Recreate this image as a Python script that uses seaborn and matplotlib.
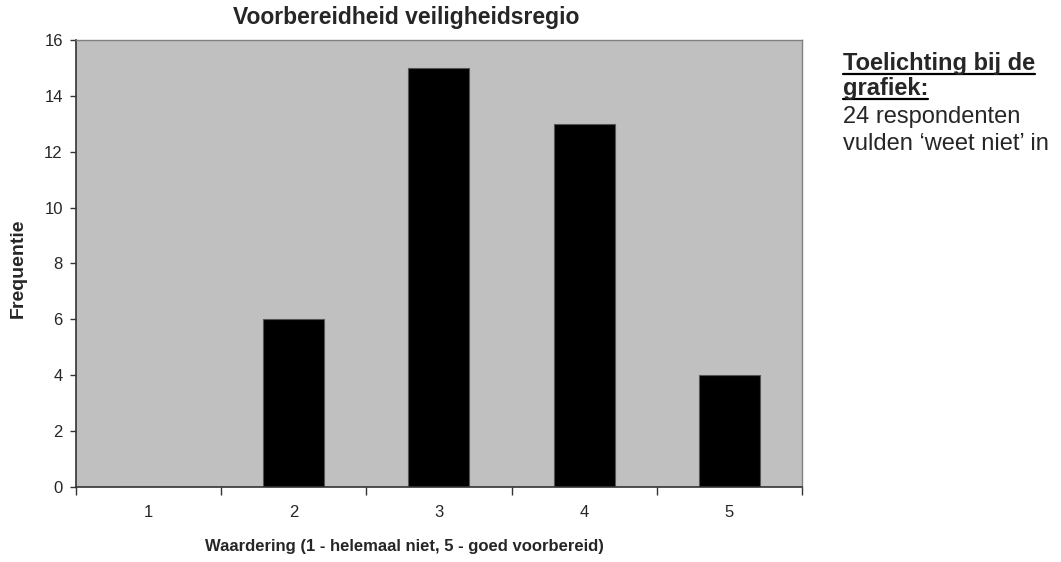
import matplotlib
matplotlib.use("Agg")
import matplotlib.pyplot as plt
import seaborn as sns
import pandas as pd
import numpy as np
from matplotlib.lines import Line2D

waardering = ["1", "2", "3", "4", "5"]
frequentie = [0, 6, 15, 13, 4]
y_ticks = [0, 2, 4, 6, 8, 10, 12, 14, 16]

df = pd.DataFrame({"waardering": waardering, "frequentie": frequentie})

sns.set_style("white")
plt.rcParams['font.family'] = ['Liberation Sans', 'DejaVu Sans']

fig = plt.figure(figsize=(10.61, 5.62), dpi=100)
ax = fig.add_axes([0.0716, 0.1335, 0.6843, 0.7955])
sns.barplot(data=df, x="waardering", y="frequentie", color="black",
            width=0.42, edgecolor="#555555", linewidth=0.8, saturation=1, ax=ax)
ax.set_facecolor("#C0C0C0")
ax.set_xlim(-0.5, 4.5)
ax.set_ylim(0, 16)
ax.set_yticks(y_ticks)
ax.set_yticklabels([str(t) for t in y_ticks], fontsize=12)

# category boundaries as major ticks, labels centred as minor ticks
ax.set_xticks(np.arange(-0.5, 5, 1))
ax.set_xticklabels([])
ax.set_xticks(np.arange(0, 5), minor=True)
ax.set_xticklabels(waardering, minor=True, fontsize=12)
ax.tick_params(axis="x", which="major", direction="out", length=6, width=1, color="#333333", bottom=True)
ax.tick_params(axis="x", which="minor", length=0, pad=13)
ax.tick_params(axis="y", direction="out", length=4.5, width=1, color="#333333", left=True, pad=5)

for s in ["top", "right"]:
    ax.spines[s].set_color("#808080")
    ax.spines[s].set_linewidth(1)
for s in ["left", "bottom"]:
    ax.spines[s].set_color("#333333")
    ax.spines[s].set_linewidth(1.2)

fig.text(0.3827, 0.957, "Voorbereidheid veiligheidsregio", fontsize=16.5,
         fontweight="bold", ha="center", va="baseline")
ax.set_xlabel("Waardering (1 - helemaal niet, 5 - goed voorbereid)", fontsize=12,
              fontweight="bold", labelpad=14)
ax.xaxis.label.set_x(0.4525)
ax.set_ylabel("")
fig.text(0.017, 0.523, "Frequentie", fontsize=14, fontweight="bold", rotation=90,
         ha="center", va="center")

# note on the right
x0 = 843 / 1061
t1 = fig.text(x0, 1 - 70 / 562, "Toelichting bij de", fontsize=17, fontweight="bold", va="baseline")
t2 = fig.text(x0, 1 - 95 / 562, "grafiek:", fontsize=17, fontweight="bold", va="baseline")
fig.text(x0, 1 - 123 / 562, "24 respondenten", fontsize=17, va="baseline")
fig.text(x0, 1 - 150 / 562, "vulden \u2018weet niet\u2019 in", fontsize=17, va="baseline")

fig.canvas.draw()
r = fig.canvas.get_renderer()
for t in (t1, t2):
    bb = t.get_window_extent(r).transformed(fig.transFigure.inverted())
    ty = t.get_position()[1] - 3.5 / 562
    fig.add_artist(Line2D([bb.x0, bb.x1], [ty, ty],
                          transform=fig.transFigure, color="black", lw=1.6))

fig.savefig("out.png", dpi=100)
